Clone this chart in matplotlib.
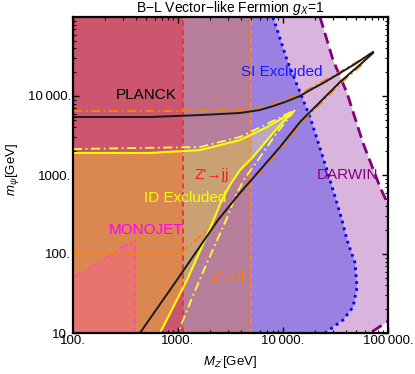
import numpy as np
import matplotlib
matplotlib.use("Agg")
import matplotlib.pyplot as plt
from matplotlib.patches import Polygon, Rectangle
from matplotlib.ticker import FixedLocator, LogLocator, NullFormatter

plt.rcParams['font.family'] = ['Liberation Sans', 'DejaVu Sans']
plt.rcParams['mathtext.fontset'] = 'custom'
plt.rcParams['mathtext.rm'] = 'Liberation Sans'
plt.rcParams['mathtext.it'] = 'Liberation Sans:italic'

# axis range
xlim = (1e2, 1e5)
ylim = (1e1, 1e5)

# collider bounds on M_Z' [GeV]
mzp_dijet = 1120
mzp_dilepton = 5000
mzp_monojet = 390

# monojet boundary (pink dash-dot)
mono_x = [100, 181, 280, 390]
mono_y = [51, 79, 119, 150]

# relic density (PLANCK) branches, black
planck_up_x = [100, 541, 1622, 3894, 6040, 8035, 10450, 14520, 18890, 25120, 34900, 48560, 71970]
planck_up_y = [5420, 5420, 5740, 6090, 6650, 7460, 8390, 10000, 12270, 15030, 19550, 25410, 36100]
planck_lo_x = [434, 978, 2404, 3894, 6040, 9360, 14520, 22510, 34900, 57820, 71970]
planck_lo_y = [10, 47, 269, 592, 1156, 2260, 4690, 8390, 15030, 26920, 35000]

# relic density, second set (orange dash-dot)
relic2_up_x = [100, 1622, 4345, 6745, 10450, 14520, 22510, 34900, 48560, 67450]
relic2_up_y = [6460, 6460, 6650, 7460, 8890, 10600, 14620, 20140, 26200, 34000]
relic2_lo_x = [100, 1044, 1300, 1807, 2404, 3894, 6310, 9780, 15170, 23500, 36500, 60400]
relic2_lo_y = [100, 100, 130, 190, 262, 574, 1156, 2260, 4690, 8390, 15030, 26920]

# indirect detection exclusion (yellow solid)
id_up_x = [100, 541, 1622, 3894, 7045, 12450]
id_up_y = [1900, 1900, 2070, 2770, 4050, 6270]
id_lo_x = [12450, 10000, 8035, 6460, 5180, 3894, 3128, 2624, 1807, 1219, 674]
id_lo_y = [6270, 4690, 3400, 2400, 1690, 1156, 747, 483, 150, 47, 10]

# indirect detection, second line (yellow dash-dot)
id2_up_x = [100, 1622, 3894, 7045, 13000]
id2_up_y = [2130, 2260, 3030, 4430, 6650]
id2_lo_x = [13000, 8570, 5780, 4345, 3565, 2930, 2250, 1730, 1300, 1000]
id2_lo_y = [6650, 3300, 1550, 916, 558, 286, 130, 59, 24, 10]

# direct detection SI exclusion (blue dotted)
si_x = [8035, 10920, 18080, 26260, 36500, 40700, 48560, 50720, 46460, 37270, 25120]
si_y = [100000, 28570, 5420, 1156, 269, 150, 77, 38, 21.3, 14.6, 10]

# DARWIN projection (purple dashed)
darwin_x = [22510, 29940, 40700, 57820, 83950, 116800, 162000, 116800, 97800, 67450]
darwin_y = [100000, 28570, 10920, 2540, 705, 269, 63, 16.9, 13.8, 10]

c_darwin = '#d9b4dc'
c_si = '#9a80e0'
c_dilep = '#b77e9c'
c_dijet = '#cb566e'
c_id_si = '#bba6c4'
c_id_dilep = '#c9a174'
c_id_dijet = '#da884f'
c_mono = '#e6756e'

fig = plt.figure(figsize=(4.15, 3.74), dpi=100)
ax = fig.add_axes([73/415, 41/374, 315/415, 316/374])
ax.set_xscale('log')
ax.set_yscale('log')
ax.set_xlim(*xlim)
ax.set_ylim(*ylim)

# shaded regions
ax.add_patch(Polygon(list(zip([xlim[0]] + darwin_x + [xlim[0]], [ylim[1]] + darwin_y + [ylim[0]])),
                     closed=True, fc=c_darwin, ec='none', zorder=1))
ax.add_patch(Polygon(list(zip([xlim[0]] + si_x + [xlim[0]], [ylim[1]] + si_y + [ylim[0]])),
                     closed=True, fc=c_si, ec='none', zorder=1.1))
ax.axvspan(xlim[0], mzp_dilepton, color=c_dilep, lw=0, zorder=1.2)
ax.axvspan(xlim[0], mzp_dijet, color=c_dijet, lw=0, zorder=1.3)

id_poly = list(zip(id_up_x + id_lo_x[1:] + [xlim[0]], id_up_y + id_lo_y[1:] + [ylim[0]]))
for col, xmax, z in [(c_id_si, xlim[1], 1.4), (c_id_dilep, mzp_dilepton, 1.5), (c_id_dijet, mzp_dijet, 1.6)]:
    p = Polygon(id_poly, closed=True, fc=col, ec='none', zorder=z)
    ax.add_patch(p)
    clip = Rectangle((xlim[0], ylim[0]), xmax - xlim[0], ylim[1] - ylim[0], transform=ax.transData)
    p.set_clip_path(clip)

ax.fill_between(mono_x, ylim[0], mono_y, color=c_mono, lw=0, zorder=1.7)

# boundary lines
ax.axvline(mzp_dijet, color='#e8303c', ls=(0, (3, 2)), lw=1.3, zorder=2)
ax.axvline(mzp_dilepton, color='#ff8a1a', ls=(0, (3, 2)), lw=1.3, zorder=2)
ax.plot([mzp_monojet, mzp_monojet], [ylim[0], mono_y[-1]], color='#ff4fa8', ls=(0, (3, 2)), lw=1.3, zorder=2)
ax.plot(mono_x, mono_y, color='#ff4fa8', ls=(0, (5, 2, 1, 2)), lw=1.3, zorder=2)
ax.plot(si_x, si_y, color='#0000ff', ls=(0, (1, 1.5)), lw=2, zorder=2.1)
ax.plot(darwin_x, darwin_y, color='#800080', ls=(0, (4, 2)), lw=2, zorder=2.1)
ax.plot(relic2_up_x, relic2_up_y, color='#ff8000', ls=(0, (5, 2, 1, 2)), lw=1.3, zorder=2.2)
ax.plot(relic2_lo_x, relic2_lo_y, color='#ff8000', ls=(0, (5, 2, 1, 2)), lw=1.3, zorder=2.2)
ax.plot(id2_up_x, id2_up_y, color='#ffff40', ls=(0, (5, 2, 1, 2)), lw=1.3, zorder=2.3)
ax.plot(id2_lo_x, id2_lo_y, color='#ffff40', ls=(0, (5, 2, 1, 2)), lw=1.3, zorder=2.3)
ax.plot(id_up_x + id_lo_x[1:], id_up_y + id_lo_y[1:], color='#ffff00', lw=1.5, zorder=2.4)
ax.plot(planck_up_x, planck_up_y, color='#1a1a1a', lw=1.4, zorder=2.5)
ax.plot(planck_lo_x, planck_lo_y, color='#1a1a1a', lw=1.4, zorder=2.5)

# labels
tk = dict(ha='center', va='center', fontsize=11, zorder=3)
ax.text(496, 10300, 'PLANCK', color='black', **tk)
ax.text(9770, 20140, 'SI Excluded', color='#1a1aff', **tk)
ax.text(40700, 1000, 'DARWIN', color='#800080', **tk)
ax.text(2110, 1000, "Z'\u2192jj", color='#ff1a1a', **tk)
ax.text(1166, 512, 'ID Excluded', color='#ffff00', **tk)
ax.text(496, 201, 'MONOJET', color='#ff00ff', **tk)
ax.text(2990, 51, "Z'\u2192ll", color='#ff8000', **tk)

ax.set_title('B\u2212L Vector\u2212like Fermion $g_X$=1', fontsize=10, pad=3)
ax.set_xlabel("$M_{Z'}$[GeV]", fontsize=9.5)
ax.set_ylabel('$m_\\psi$[GeV]', fontsize=9.5)
ax.xaxis.set_label_coords(0.498, -0.068)
ax.yaxis.set_label_coords(-0.165, 0.516)

ax.xaxis.set_major_locator(FixedLocator([1e2, 1e3, 1e4, 1e5]))
ax.set_xticklabels(['100.', '1000.', '10\u2009000.', '100\u2009000.'])
ax.yaxis.set_major_locator(FixedLocator([1e1, 1e2, 1e3, 1e4]))
ax.set_yticklabels(['10.', '100.', '1000.', '10\u2009000.'])
ax.xaxis.set_minor_locator(LogLocator(base=10, subs=np.arange(2, 10)))
ax.yaxis.set_minor_locator(LogLocator(base=10, subs=np.arange(2, 10)))
ax.xaxis.set_minor_formatter(NullFormatter())
ax.yaxis.set_minor_formatter(NullFormatter())
ax.tick_params(which='both', direction='in', top=True, right=True, labelsize=9.5, pad=1.5)
ax.tick_params(which='major', length=4, width=1)
ax.tick_params(which='minor', length=2, width=0.8)
for s in ax.spines.values():
    s.set_linewidth(1.6)
    s.set_zorder(4)

fig.savefig('out.png', dpi=100)
